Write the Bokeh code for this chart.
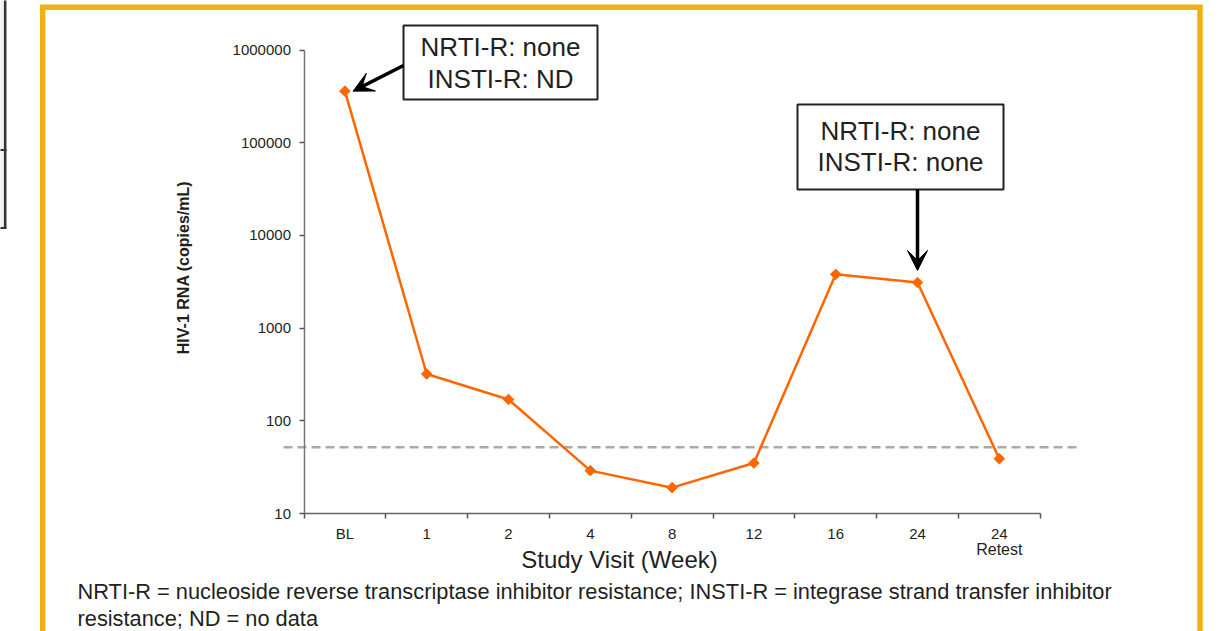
import numpy as np
from bokeh.plotting import figure
from bokeh.models import FixedTicker, NumeralTickFormatter, Arrow, VeeHead, Range1d
from bokeh.core.properties import value
from bokeh.embed import file_html
from bokeh.resources import INLINE

# ---------------- data ----------------
visits = ["BL", "1", "2", "4", "8", "12", "16", "24", "24"]
visit_sub = ["", "", "", "", "", "", "", "", "Retest"]
rna = [360000, 320, 170, 29, 19, 35, 3800, 3100, 39]
lod = 52
y_ticks = [10, 100, 1000, 10000, 100000, 1000000]
box1_lines = ["NRTI-R: none", "INSTI-R: ND"]
box2_lines = ["NRTI-R: none", "INSTI-R: none"]
x_title = "Study Visit (Week)"
y_title = "HIV-1 RNA (copies/mL)"
footnote = ["NRTI-R = nucleoside reverse transcriptase inhibitor resistance; INSTI-R = integrase strand transfer inhibitor",
            "resistance; ND = no data"]

# ---------------- layout helpers (page pixels -> data) ----------------
W, H = 1229, 631
X0, Y0 = 0, 0            # canvas origin on the page
AX_X0, CAT_W = 303.5, 81.8
AX_Y10, DEC = 513.0, 92.7

def dx(px):
    return (px - AX_X0) / CAT_W

def dy(py):
    return 10 ** (1 + (AX_Y10 - py) / DEC)

FONT_NAME = "Liberation Sans"
FONT = value(FONT_NAME)
TXT = "#231F20"
ORANGE = "#FF6600"
GOLD = "#EEB211"

p = figure(width=W, height=H, x_range=Range1d(dx(X0), dx(X0 + W)),
           y_range=Range1d(dy(Y0 + H), dy(Y0)), y_axis_type="log",
           output_backend="svg", toolbar_location=None)
p.min_border = 0
p.min_border_left = 0
p.min_border_right = 0
p.min_border_top = 0
p.min_border_bottom = 0
p.outline_line_color = None
p.grid.visible = False
p.background_fill_color = "white"
p.border_fill_color = "white"

def txt(px, py, s, size, align="center"):
    """Text whose baseline sits at page pixel (px, py)."""
    p.text(x=[dx(px)], y=[dy(py - 0.38 * size)], text=[s], text_font=FONT,
           text_font_size=f"{size}px", text_align=align,
           text_baseline="alphabetic", text_color=TXT)

# fragment of neighbouring panel at the far left
p.quad(left=[dx(-5)], right=[dx(4.5)], top=[dy(-5)], bottom=[dy(228)],
       fill_color="#EFEEF4", line_color=None)
p.line(x=[dx(4.7), dx(4.7)], y=[dy(-5), dy(228)], line_color="#333333", line_width=2.5)
p.line(x=[dx(-2), dx(6)], y=[dy(149.5), dy(149.5)], line_color="#333333", line_width=2)
p.line(x=[dx(-2), dx(6)], y=[dy(227.5), dy(227.5)], line_color="#333333", line_width=2)

# gold frame
p.line(x=[dx(42.2), dx(42.2), dx(1199.5), dx(1199.5)],
       y=[dy(700), dy(6.8), dy(6.8), dy(700)],
       line_width=5.5, line_color=GOLD, line_join="miter")

# axes
xc = [i + 0.5 for i in range(len(visits))]
xa = p.xaxis[0]
xa.fixed_location = 10
xa.bounds = (0, len(visits))
xa.ticker = FixedTicker(ticks=xc, minor_ticks=list(range(len(visits) + 1)))
xa.major_label_overrides = {c: lab for c, lab in zip(xc, visits)}
xa.major_tick_line_color = None
xa.major_tick_out = 5
xa.major_tick_in = 0
xa.minor_tick_in = 0
xa.minor_tick_out = 5
xa.minor_tick_line_color = "#555555"
xa.minor_tick_line_width = 1.5
xa.axis_line_color = "#666666"
xa.axis_line_width = 1.5
xa.major_label_text_font = FONT_NAME
xa.major_label_text_font_size = "15px"
xa.major_label_text_color = TXT
xa.major_label_standoff = 6

ya = p.yaxis[0]
ya.fixed_location = 0
ya.bounds = (y_ticks[0], y_ticks[-1])
ya.ticker = FixedTicker(ticks=y_ticks, minor_ticks=[])
ya.formatter = NumeralTickFormatter(format="0")
ya.major_tick_in = 0
ya.major_tick_out = 5
ya.major_tick_line_color = "#555555"
ya.major_tick_line_width = 1.5
ya.minor_tick_line_color = None
ya.axis_line_color = "#777777"
ya.axis_line_width = 1.5
ya.major_label_text_font = FONT_NAME
ya.major_label_text_font_size = "15px"
ya.major_label_text_color = TXT
ya.major_label_standoff = 8

# detection limit
p.line(x=[-0.25, len(visits) + 0.5], y=[lod, lod], line_color="#AAAAAA",
       line_width=2.5, line_dash="9 5")

# series
p.line(x=xc, y=rna, line_color=ORANGE, line_width=2.5)
p.scatter(x=xc, y=rna, marker="square", angle=np.pi / 4, size=7.5,
          fill_color=ORANGE, line_color=ORANGE)

# sub-labels under ticks
for c, s in zip(xc, visit_sub):
    if s:
        p.text(x=[c], y=[dy(555 - 0.38 * 16)], text=[s], text_font=FONT,
               text_font_size="16px", text_align="center",
               text_baseline="alphabetic", text_color=TXT)

# annotation boxes
p.quad(left=[dx(403)], right=[dx(597)], top=[dy(25)], bottom=[dy(99)],
       fill_color="white", line_color="#222222", line_width=2)
txt(500, 56, box1_lines[0], 26)
txt(500, 88.5, box1_lines[1], 26)

p.quad(left=[dx(797)], right=[dx(1003)], top=[dy(104)], bottom=[dy(189)],
       fill_color="white", line_color="#222222", line_width=2)
txt(900, 140, box2_lines[0], 26)
txt(900, 171.5, box2_lines[1], 26)

p.add_layout(Arrow(end=VeeHead(size=20, fill_color="black", line_color="black"),
                   x_start=dx(403), y_start=dy(65), x_end=xc[0] + 0.1, y_end=rna[0] * 1.0,
                   line_width=3.5, line_color="black"))
p.add_layout(Arrow(end=VeeHead(size=20, fill_color="black", line_color="black"),
                   x_start=xc[7], y_start=dy(189), x_end=xc[7], y_end=rna[7] * 1.35,
                   line_width=3.5, line_color="black"))

# titles
txt(619, 568, x_title, 24)
p.text(x=[dx(183)], y=[dy(267)], text=[y_title], text_font=FONT, text_font_size="16px",
       text_align="center", text_baseline="middle", text_font_style="bold",
       text_color=TXT, angle=np.pi / 2)

# footnote
txt(77, 599, footnote[0], 21.8, align="left")
txt(77, 626, footnote[1], 21.8, align="left")

open("out.html", "w").write(file_html(p, INLINE))
